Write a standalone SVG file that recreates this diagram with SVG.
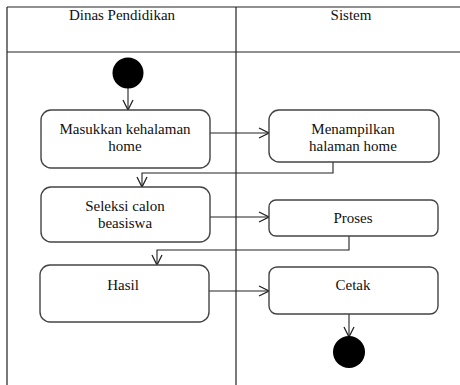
<svg xmlns="http://www.w3.org/2000/svg" width="460" height="385" viewBox="0 0 460 385">
  <style>
    .lane { fill: none; stroke: #222; stroke-width: 1.2; }
    .act { fill: #fff; stroke: #444; stroke-width: 1.4; }
    .flow { fill: none; stroke: #222; stroke-width: 1.1; }
    .lbl { font-family: 'Liberation Serif', 'Times New Roman', Times, serif; font-size: 15px; fill: #111; text-anchor: middle; }
  </style>
  <defs>
    <marker id="open" viewBox="0 0 12 12" refX="11" refY="6" markerWidth="12" markerHeight="12" markerUnits="userSpaceOnUse" orient="auto">
      <path d="M1,1 L11,6 L1,11" fill="none" stroke="#222" stroke-width="1.3"/>
    </marker>
  </defs>

  <rect width="460" height="385" fill="#fff"/>

  <!-- swimlanes -->
  <g id="swimlanes">
    <line class="lane" x1="7" y1="7" x2="460" y2="7"/>
    <line class="lane" x1="7" y1="52" x2="460" y2="52"/>
    <line class="lane" x1="7" y1="7" x2="7" y2="385"/>
    <line class="lane" x1="236" y1="7" x2="236" y2="385"/>
    <text class="lbl" x="122" y="20">Dinas Pendidikan</text>
    <text class="lbl" x="351" y="20">Sistem</text>
  </g>

  <!-- connectors -->
  <g id="connectors">
    <line class="flow" x1="128" y1="88" x2="128" y2="110" marker-end="url(#open)"/>
    <line class="flow" x1="210" y1="133" x2="269" y2="133" marker-end="url(#open)"/>
    <polyline class="flow" points="333,162 333,173 142,173 142,187" marker-end="url(#open)"/>
    <line class="flow" x1="210" y1="217" x2="269" y2="217" marker-end="url(#open)"/>
    <polyline class="flow" points="349,236 349,250 157,250 157,265" marker-end="url(#open)"/>
    <line class="flow" x1="209" y1="291" x2="269" y2="291" marker-end="url(#open)"/>
    <line class="flow" x1="349" y1="314" x2="349" y2="337" marker-end="url(#open)"/>
  </g>

  <g id="start">
    <circle cx="128" cy="73" r="15.5" fill="#000"/>
  </g>

  <g id="masukkan">
    <rect class="act" x="41" y="110" width="169" height="58" rx="10"/>
    <text class="lbl" x="125" y="134">Masukkan kehalaman</text>
    <text class="lbl" x="125" y="151">home</text>
  </g>

  <g id="menampilkan">
    <rect class="act" x="269" y="110" width="170" height="52" rx="10"/>
    <text class="lbl" x="353" y="134">Menampilkan</text>
    <text class="lbl" x="353" y="151">halaman  home</text>
  </g>

  <g id="seleksi">
    <rect class="act" x="41" y="187" width="169" height="55" rx="10"/>
    <text class="lbl" x="125" y="211">Seleksi calon</text>
    <text class="lbl" x="125" y="228">beasiswa</text>
  </g>

  <g id="proses">
    <rect class="act" x="269" y="200" width="169" height="36" rx="7"/>
    <text class="lbl" x="353" y="223">Proses</text>
  </g>

  <g id="hasil">
    <rect class="act" x="40" y="265" width="169" height="57" rx="10"/>
    <text class="lbl" x="123" y="290">Hasil</text>
  </g>

  <g id="cetak">
    <rect class="act" x="269" y="267" width="169" height="47" rx="8"/>
    <text class="lbl" x="353" y="290">Cetak</text>
  </g>

  <g id="end">
    <circle cx="349" cy="352" r="16" fill="#000"/>
  </g>
</svg>
